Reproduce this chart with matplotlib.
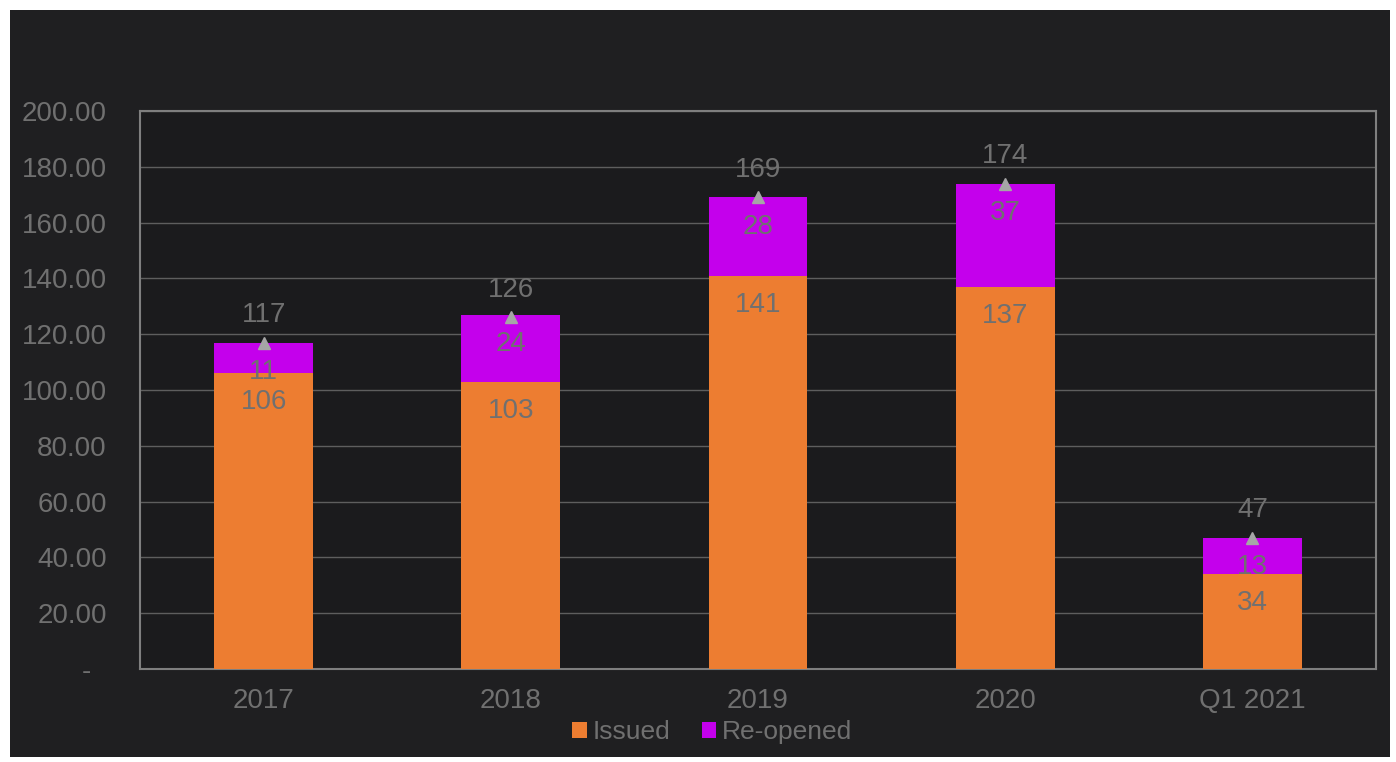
import matplotlib.pyplot as plt
from matplotlib.patches import Rectangle
import numpy as np

plt.rcParams['font.family'] = ['Liberation Sans', 'DejaVu Sans']

# data
years = ['2017', '2018', '2019', '2020', 'Q1 2021']
issued = [106, 103, 141, 137, 34]
reopened = [11, 24, 28, 37, 13]
totals = [117, 126, 169, 174, 47]

txt_col = '#707070'
orange = '#ED7D31'
purple = '#C400EC'
fs = 20

fig = plt.figure(figsize=(13.96, 7.62), dpi=100)
fig.patch.set_facecolor('white')
fig.patches.append(Rectangle((10/1396, 5/762), 1380/1396, 747/762,
                             transform=fig.transFigure, facecolor='#1f1f21',
                             edgecolor='none', zorder=-10))

ax = fig.add_axes([140/1396, 1 - 669/762, 1236/1396, 558/762])
ax.set_facecolor('#1b1b1d')

x = np.arange(len(years))
w = 0.4
b1 = ax.bar(x, issued, w, color=orange, label='Issued', zorder=3)
b2 = ax.bar(x, reopened, w, bottom=issued, color=purple, label='Re-opened', zorder=3)
ax.plot(x, totals, linestyle='none', marker='^', color='#a6a6a6', markersize=9, zorder=4)

# segment labels, inside end
for i in range(len(years)):
    ax.annotate(str(issued[i]), (x[i], issued[i]), xytext=(0, -21), textcoords='offset points',
                ha='center', va='center', fontsize=fs, color=txt_col, zorder=5)
    ax.annotate(str(reopened[i]), (x[i], issued[i] + reopened[i]), xytext=(0, -21),
                textcoords='offset points', ha='center', va='center', fontsize=fs,
                color=txt_col, zorder=5)
    ax.annotate(str(totals[i]), (x[i], totals[i]), xytext=(0, 20), textcoords='offset points',
                ha='center', va='center', fontsize=fs, color=txt_col, zorder=5)

ax.set_xlim(-0.5, len(years) - 0.5)
ax.set_ylim(0, 200)
yt = np.arange(0, 201, 20)
ax.set_yticks(yt)
ax.set_yticklabels(['-  ' if v == 0 else f'{v:.2f}' for v in yt])
ax.set_xticks(x)
ax.set_xticklabels(years)
ax.tick_params(axis='both', length=0, labelsize=fs, colors=txt_col)
ax.tick_params(axis='y', pad=24)
ax.tick_params(axis='x', pad=14)
ax.grid(axis='y', color='#5e5e5e', linewidth=1, zorder=0)
for s in ax.spines.values():
    s.set_color('#7f7f7f')
    s.set_linewidth(1.5)

leg = fig.legend(handles=[b1, b2], labels=['Issued', 'Re-opened'], loc='center',
                 bbox_to_anchor=(712/1396, 1 - 732/762), ncol=2, frameon=False,
                 fontsize=19, labelcolor=txt_col, handlelength=0.55, handleheight=0.55,
                 handletextpad=0.2, columnspacing=1.2)

fig.savefig('out.png', dpi=100)
